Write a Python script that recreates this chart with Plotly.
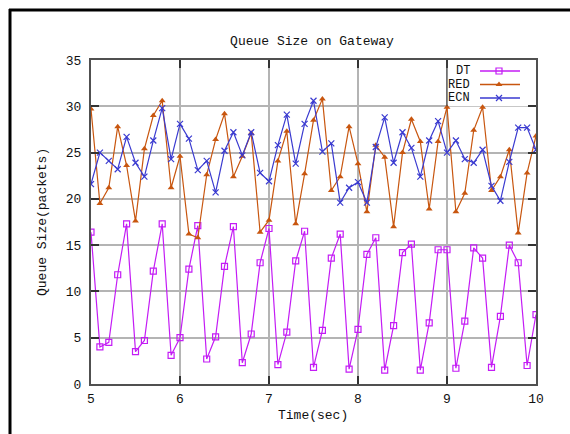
import plotly.graph_objects as go

# Sample times (sec)
time_sec = [5.0, 5.1, 5.2, 5.3, 5.4, 5.5, 5.6, 5.7, 5.8, 5.9,
            6.0, 6.1, 6.2, 6.3, 6.4, 6.5, 6.6, 6.7, 6.8, 6.9,
            7.0, 7.1, 7.2, 7.3, 7.4, 7.5, 7.6, 7.7, 7.8, 7.9,
            8.0, 8.1, 8.2, 8.3, 8.4, 8.5, 8.6, 8.7, 8.8, 8.9,
            9.0, 9.1, 9.2, 9.3, 9.4, 9.5, 9.6, 9.7, 9.8, 9.9,
            10.0]

# Queue size (packets) per queueing discipline
dt_queue = [16.4, 4.0, 4.5, 11.8, 17.3, 3.5, 4.7, 12.2, 17.3, 3.1,
            5.0, 12.4, 17.1, 2.7, 5.1, 12.7, 17.0, 2.3, 5.4, 13.1,
            16.8, 2.1, 5.6, 13.3, 16.5, 1.8, 5.8, 13.6, 16.2, 1.6,
            5.9, 14.0, 15.8, 1.5, 6.3, 14.2, 15.1, 1.5, 6.6, 14.5,
            14.5, 1.7, 6.8, 14.7, 13.6, 1.8, 7.3, 15.0, 13.1, 2.0,
            7.5]
red_queue = [29.7, 19.5, 21.2, 27.8, 23.6, 17.6, 25.4, 29.0, 30.6, 21.2,
             24.6, 16.2, 15.8, 22.6, 26.4, 29.2, 22.4, 24.6, 27.1, 16.4,
             17.7, 24.1, 27.3, 17.3, 22.7, 28.5, 30.8, 20.9, 22.4, 27.8,
             23.8, 18.6, 25.8, 24.5, 17.0, 25.0, 28.6, 26.2, 18.9, 26.2,
             29.9, 18.6, 20.6, 27.4, 29.9, 20.9, 22.4, 25.3, 16.3, 22.8,
             26.8]
ecn_queue = [21.6, 25.0, 24.1, 23.2, 26.7, 23.9, 22.4, 26.3, 29.8, 24.3,
             28.1, 26.5, 23.1, 24.1, 20.7, 25.2, 27.2, 24.7, 27.2, 22.8,
             21.9, 25.8, 29.1, 23.8, 28.1, 30.6, 25.1, 26.0, 19.6, 21.2,
             21.8, 19.6, 25.6, 28.8, 23.9, 27.2, 25.5, 22.4, 26.3, 28.4,
             25.0, 26.3, 24.3, 23.9, 25.3, 21.4, 19.8, 24.0, 27.7, 27.7,
             25.3]

x_ticks = [5, 6, 7, 8, 9, 10]
y_ticks = [0, 5, 10, 15, 20, 25, 30, 35]

DT_C, RED_C, ECN_C = "#c41cf5", "#c8560f", "#3a3ad0"
series = [
    ("DT", dt_queue, DT_C,
     dict(symbol="square-open", size=6, color=DT_C, line=dict(width=1.2, color=DT_C))),
    ("RED", red_queue, RED_C,
     dict(symbol="triangle-up", size=6, color=RED_C, line=dict(width=0, color=RED_C))),
    ("ECN", ecn_queue, ECN_C,
     dict(symbol="x-thin", size=6, color=ECN_C, line=dict(width=1.2, color=ECN_C))),
]

FONT = "Liberation Mono, DejaVu Sans Mono, monospace"
FSIZE = 13
KEY_FSIZE = 12
W, H = 570, 434
L, R, T, B = 91, 34, 60, 50
PW, PH = W - L - R, H - T - B


def px_x(p):
    return (p - L) / PW


def px_y(p):
    return (H - B - p) / PH


fig = go.Figure()
for name, vals, color, marker in series:
    fig.add_trace(go.Scatter(
        x=time_sec, y=vals, mode="lines+markers", name=name,
        line=dict(color=color, width=1.2),
        marker=marker,
        showlegend=False,
    ))

# Key entries: label on the left, line sample with a centred marker
legend_rows = [71, 84.5, 98]
annotations = []
for (name, vals, color, marker), row in zip(series, legend_rows):
    yk = px_y(row)
    fig.add_trace(go.Scatter(
        x=[px_x(480), px_x(520)], y=[yk, yk], mode="lines",
        line=dict(color=color, width=1.5), xaxis="x2", yaxis="y2",
        showlegend=False, hoverinfo="skip",
    ))
    fig.add_trace(go.Scatter(
        x=[px_x(499)], y=[yk], mode="markers",
        marker=marker, xaxis="x2", yaxis="y2",
        showlegend=False, hoverinfo="skip",
    ))
    annotations.append(dict(
        x=px_x(472), y=yk, xref="paper", yref="paper", text=name,
        showarrow=False, xanchor="right", yanchor="middle",
        font=dict(family=FONT, size=KEY_FSIZE, color="#111"),
    ))

annotations += [
    dict(x=px_x(313), y=px_y(415), xref="paper", yref="paper", text="Time(sec)",
         showarrow=False, xanchor="center", yanchor="middle",
         font=dict(family=FONT, size=FSIZE, color="#111")),
    dict(x=px_x(42), y=px_y(222), xref="paper", yref="paper", text="Queue Size(packets)",
         showarrow=False, xanchor="center", yanchor="middle", textangle=-90,
         font=dict(family=FONT, size=FSIZE, color="#111")),
]

shapes = [
    # key box
    dict(type="rect", xref="x", yref="y", x0=9, x1=10, y0=30, y1=35,
         fillcolor="white", line=dict(width=0), layer="between"),
    dict(type="line", xref="x", yref="y", x0=9, x1=9, y0=30, y1=35,
         line=dict(color="#444", width=1.2), layer="above"),
    # window frame on the top and left edges
    dict(type="line", xref="paper", yref="paper", x0=px_x(9), x1=px_x(572),
         y0=px_y(10), y1=px_y(10), line=dict(color="black", width=3)),
    dict(type="line", xref="paper", yref="paper", x0=px_x(10), x1=px_x(10),
         y0=px_y(9), y1=px_y(436), line=dict(color="black", width=3)),
]

axis_common = dict(
    showgrid=True, gridcolor="#b4b4b4", gridwidth=1.5,
    showline=True, linecolor="#505050", linewidth=2, mirror="ticks",
    ticks="inside", ticklen=8, tickwidth=1.5, tickcolor="#333",
    tickfont=dict(family=FONT, size=FSIZE, color="#111"),
    zeroline=False, fixedrange=True,
)

fig.update_layout(
    width=W, height=H,
    margin=dict(l=L, r=R, t=T, b=B),
    paper_bgcolor="white", plot_bgcolor="white",
    title=dict(text="Queue Size on Gateway", x=px_x(312), xref="paper", xanchor="center",
               y=1 - 40 / H, yref="container", yanchor="middle",
               font=dict(family=FONT, size=FSIZE, color="#111")),
    xaxis=dict(range=[5, 10], tickvals=x_ticks, ticktext=[str(v) for v in x_ticks],
               ticklabelstandoff=1, **axis_common),
    yaxis=dict(range=[0, 35], tickvals=y_ticks, ticktext=[str(v) for v in y_ticks],
               ticklabelstandoff=5, **axis_common),
    xaxis2=dict(overlaying="x", range=[0, 1], visible=False, fixedrange=True),
    yaxis2=dict(overlaying="y", range=[0, 1], visible=False, fixedrange=True),
    shapes=shapes, annotations=annotations,
    showlegend=False,
)

fig.write_html("out.html")
